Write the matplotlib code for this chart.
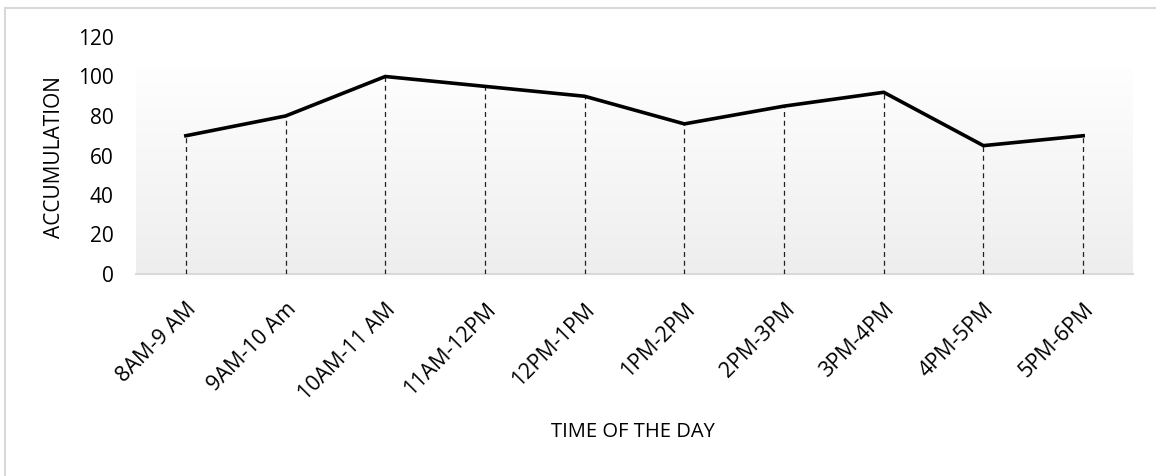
import matplotlib
matplotlib.use('Agg')
import matplotlib.pyplot as plt
import matplotlib.patches as patches
import numpy as np

# data
periods = ['8AM-9 AM', '9AM-10 Am', '10AM-11 AM', '11AM-12PM', '12PM-1PM',
           '1PM-2PM', '2PM-3PM', '3PM-4PM', '4PM-5PM', '5PM-6PM']
accumulation = [70, 80, 100, 95, 90, 76, 85, 92, 65, 70]
y_ticks = [0, 20, 40, 60, 80, 100, 120]

plt.rcParams['font.family'] = ['Open Sans', 'DejaVu Sans']

W, H = 1156, 476
fig = plt.figure(figsize=(W / 100, H / 100), dpi=100)
fig.patch.set_facecolor('white')

# chart border (runs off the right/bottom edge)
border = patches.Rectangle((5 / W, -0.05), 1.2, 1 - 8 / H + 0.05,
                           transform=fig.transFigure, facecolor='none',
                           edgecolor='#d9d9d9', linewidth=1.5, zorder=0)
fig.patches.append(border)

ax = fig.add_axes([136 / W, 202 / H, (1133 - 136) / W, (274 - 37) / H])
x = np.arange(len(periods))
ax.set_xlim(-0.5, len(periods) - 0.5)
ax.set_ylim(0, 120)
ax.set_facecolor('none')

# soft vertical gradient behind the plot
grad = np.linspace(0, 1, 256).reshape(-1, 1)
cmap = matplotlib.colors.LinearSegmentedColormap.from_list('bg', ['#eeeeee', '#fefefe'])
ax.imshow(grad, cmap=cmap, aspect='auto', origin='lower',
          extent=[-0.5, len(periods) - 0.5, 0, 103.5], zorder=0)

# drop lines
ax.vlines(x, 0, accumulation, colors='#222222', linestyles=(0, (4, 3)),
          linewidth=0.9, zorder=2)
ax.plot(x, accumulation, color='black', linewidth=2.6,
        solid_joinstyle='miter', zorder=3)

for s in ['top', 'right', 'left']:
    ax.spines[s].set_visible(False)
ax.spines['bottom'].set_color('#d9d9d9')
ax.spines['bottom'].set_linewidth(1.5)
ax.spines['bottom'].set_zorder(1)

ax.set_yticks(y_ticks)
ax.set_yticklabels([str(v) for v in y_ticks], fontsize=15)
ax.set_xticks(x)
ax.set_xticklabels(periods, rotation=45, ha='right', rotation_mode='anchor',
                   fontsize=15.5)
ax.tick_params(axis='both', length=0)
ax.tick_params(axis='x', pad=18)
ax.tick_params(axis='y', pad=16)

fig.text(55 / W, 1 - 157 / H, 'ACCUMULATION', rotation=90, ha='center',
         va='center', fontsize=15)
fig.text(633 / W, 1 - 432 / H, 'TIME OF THE DAY', ha='center', va='center',
         fontsize=14.5)

fig.savefig('out.png', dpi=100, facecolor='white')
